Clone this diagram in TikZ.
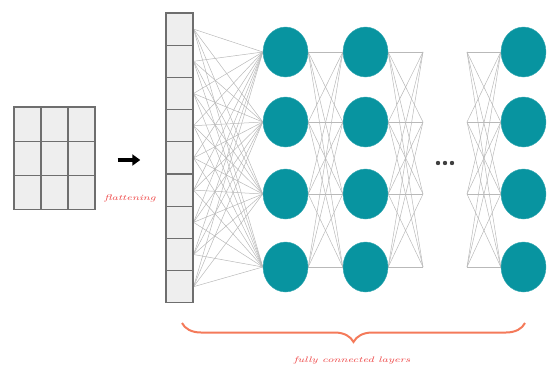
\documentclass[tikz,border=0pt]{standalone}
\definecolor{NeuronFill}{RGB}{8,148,160}
\definecolor{CellFill}{RGB}{238,238,238}
\definecolor{CellEdge}{RGB}{110,110,110}
\definecolor{LinkGray}{RGB}{185,185,185}
\definecolor{BraceOrange}{RGB}{244,122,90}
\definecolor{NoteRed}{RGB}{238,70,70}
\usetikzlibrary{shapes.geometric, decorations.pathreplacing, arrows.meta, backgrounds}

\tikzset{
    cell/.style = {draw=CellEdge, fill=CellFill, line width=1.1pt, inner sep=0pt},
    neuron/.style = {ellipse, fill=NeuronFill, draw=NeuronFill!80!white, inner sep=0pt,
                     minimum width=45pt, minimum height=50pt},
    link/.style = {draw=LinkGray, line width=0.5pt},
    note/.style = {text=NoteRed, font=\itshape\footnotesize, inner sep=0pt}
}

\begin{document}
\begin{tikzpicture}[x=1pt, y=-1pt]

    \useasboundingbox (0,0) rectangle (554,372);

    \foreach \r in {1,2,3}{
        \foreach \c in {1,2,3}{
            \node [cell, minimum width=27pt, minimum height=34.3pt]
                (g\r\c) at ({14+27*(\c-0.5)}, {107+34.3*(\r-0.5)}) {};
        }
    }

    \node [inner sep=0pt] (flatfrom) at (117,160) {};
    \node [inner sep=0pt] (flatto) at (141,160) {};
    \draw [-{Triangle[length=8pt, width=11pt]}, line width=3.2pt] (flatfrom) -- (flatto);
    \node [note] (flatlabel) at (130,198) {\scalebox{1.45}[1]{flattening}};

    \foreach \i in {1,...,9}{
        \node [cell, minimum width=27pt, minimum height=32.2pt]
            (col\i) at (179.5, {13+32.2*(\i-0.5)}) {};
    }

    \foreach \j/\y in {1/52, 2/122, 3/194, 4/267}{
        \node [neuron] (na\j) at (285.5,\y) {};
        \node [neuron] (nb\j) at (365.5,\y) {};
        \node [neuron] (nc\j) at (523.5,\y) {};
        \coordinate (s\j) at (423,\y);
        \coordinate (t\j) at (467,\y);
    }

    \begin{scope}[on background layer]
    \foreach \i in {1,...,9}{
        \foreach \j in {1,...,4}{
            \draw [link] (col\i.east) -- (na\j.west);
        }
    }
    \foreach \i in {1,...,4}{
        \foreach \j in {1,...,4}{
            \draw [link] (na\i.east) -- (nb\j.west);
            \draw [link] (nb\i.east) -- (s\j);
            \draw [link] (t\i) -- (nc\j.west);
        }
    }
    \end{scope}

    \foreach \k in {0,1,2}{
        \fill [black!75] ({438+7*\k},163) circle (2.2pt);
    }

    \coordinate (braceL) at (182,323);
    \coordinate (braceR) at (525,323);
    \draw [BraceOrange, line width=2pt, decorate,
           decoration={brace, amplitude=19pt}] (braceR) -- (braceL);
    \node [note] (fclabel) at (352,360) {\scalebox{1.45}[1]{fully connected layers}};

\end{tikzpicture}
\end{document}
